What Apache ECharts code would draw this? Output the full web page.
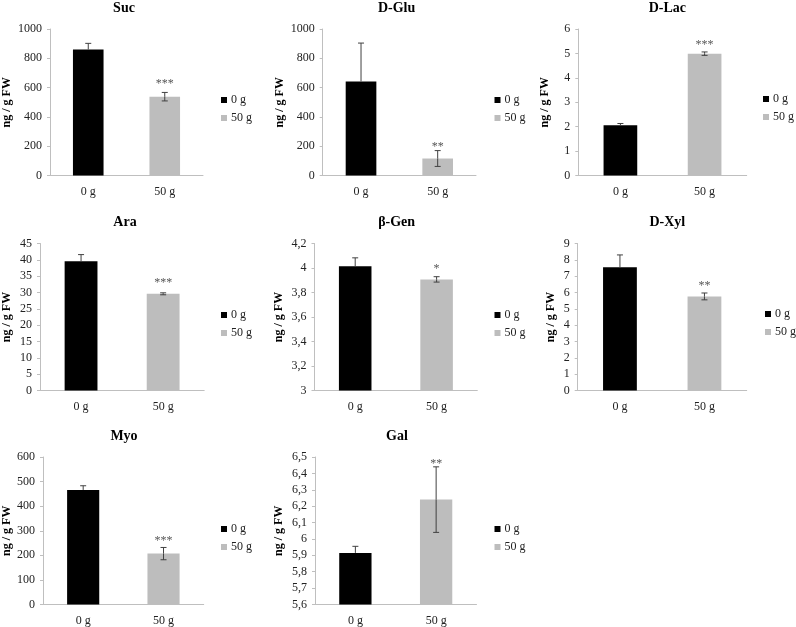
<!DOCTYPE html>
<html>
<head>
<meta charset="utf-8">
<script src="https://cdn.jsdelivr.net/npm/echarts@6/dist/echarts.min.js"></script>
<style>
html,body{margin:0;padding:0;background:#fff;}
#c{width:796px;height:627px;}
</style>
</head>
<body>
<div id="c"></div>
<script>
// ---- data ----
const panels = ['Suc', 'D-Glu', 'D-Lac', 'Ara', 'β-Gen', 'D-Xyl', 'Myo', 'Gal'];
const categories = ['0 g', '50 g'];
const val0 = [860, 642, 2.06, 39.6, 4.015, 7.55, 466, 5.915];
const err0 = [42, 262, 0.07, 2.0, 0.068, 0.75, 17, 0.04];
const val1 = [538, 116, 4.99, 29.6, 3.907, 5.76, 207, 6.24];
const err1 = [29, 54, 0.07, 0.3, 0.022, 0.21, 25, 0.2];
const stars1 = ['***', '**', '***', '***', '*', '**', '***', '**'];
const yMin = [0, 0, 0, 0, 3, 0, 0, 5.6];
const yMax = [1000, 1000, 6, 45, 4.2, 9, 600, 6.5];
const yStep = [200, 200, 1, 5, 0.2, 1, 100, 0.1];
const yName = 'ng / g FW';

// ---- layout (positions / sizes only) ----
const gridBox = [
  [50, 29, 153, 146.5],
  [322.7, 29, 153.3, 146.5],
  [578.3, 29, 168.4, 146.5],
  [39.5, 243.5, 164.7, 147],
  [314.5, 243.5, 162.8, 147],
  [577.7, 243.5, 169, 147],
  [42.7, 457, 161, 147.5],
  [315, 457, 161.5, 147.5]
];
const nameGaps = [37, 36.5, 27, 27, 30, 21, 30, 30.5];
const titlePos = [[124, 9], [396.6, 9], [667.3, 9], [125, 223], [396.6, 223], [667.3, 223], [124, 437], [397, 437]];
const legendPos = [[221, 101], [494.5, 101], [763, 100], [221, 316], [494.5, 316], [765, 315], [221, 530], [494.5, 530]];
const starGap = [11, 6, 10, 12, 10, 10, 9, 5];

const FONT = "'Liberation Serif','Times New Roman',serif";
const BLACK = '#000000';
const GRAY = '#bdbdbd';
const AXIS = '#bfbfbf';
const ERR = '#404040';

function fmt(v) {
  return String(parseFloat(Number(v).toFixed(3))).replace('.', ',');
}

const grids = [], xAxes = [], yAxes = [], series = [], titles = [], legends = [];
panels.forEach((p, i) => {
  const g = gridBox[i];
  grids.push({left: g[0], top: g[1], width: g[2], height: g[3], containLabel: false});
  xAxes.push({
    type: 'category', gridIndex: i, data: categories,
    axisLine: {lineStyle: {color: AXIS, width: 1}},
    axisTick: {show: false},
    axisLabel: {color: '#222', fontFamily: FONT, fontSize: 12, margin: 10}
  });
  yAxes.push({
    type: 'value', gridIndex: i, min: yMin[i], max: yMax[i], interval: yStep[i],
    name: yName, nameLocation: 'middle', nameGap: nameGaps[i],
    nameTextStyle: {color: '#000', fontFamily: FONT, fontSize: 12, fontWeight: 'bold'},
    axisLine: {show: true, lineStyle: {color: AXIS, width: 1}},
    axisTick: {show: true, length: 3, lineStyle: {color: AXIS}},
    splitLine: {show: false},
    axisLabel: {color: '#222', fontFamily: FONT, fontSize: 12, margin: 8, formatter: fmt}
  });
  series.push({
    type: 'bar', name: categories[0], xAxisIndex: i, yAxisIndex: i,
    data: [val0[i], '-'], barWidth: '40%', barGap: '-100%',
    itemStyle: {color: BLACK}, silent: true
  });
  series.push({
    type: 'bar', name: categories[1], xAxisIndex: i, yAxisIndex: i,
    data: ['-', val1[i]], barWidth: '40%', barGap: '-100%',
    itemStyle: {color: GRAY}, silent: true
  });
  const starText = ['', stars1[i]];
  series.push({
    type: 'custom', xAxisIndex: i, yAxisIndex: i, silent: true, z: 5,
    data: [[0, val0[i], err0[i]], [1, val1[i], err1[i]]],
    renderItem: function (params, api) {
      const x = api.value(0), v = api.value(1), e = api.value(2);
      const top = api.coord([x, v + e]);
      const mid = api.coord([x, v]);
      const bot = api.coord([x, v - e]);
      const c = 3;
      const st = {stroke: ERR, lineWidth: 1};
      const children = [
        {type: 'line', shape: {x1: top[0], y1: top[1], x2: mid[0], y2: mid[1]}, style: st},
        {type: 'line', shape: {x1: top[0] - c, y1: top[1], x2: top[0] + c, y2: top[1]}, style: st}
      ];
      // lower half only visible on the light bar (hidden by black bar in reference)
      if (params.dataIndex === 1) {
        children.push({type: 'line', shape: {x1: mid[0], y1: mid[1], x2: bot[0], y2: bot[1]}, style: st});
        children.push({type: 'line', shape: {x1: bot[0] - c, y1: bot[1], x2: bot[0] + c, y2: bot[1]}, style: st});
      }
      const s = starText[params.dataIndex];
      if (s) {
        children.push({type: 'text', style: {
          text: s, x: top[0], y: top[1] - starGap[i] + 2.5, align: 'center', verticalAlign: 'middle',
          fill: '#555', font: '12px ' + FONT
        }});
      }
      return {type: 'group', children: children};
    }
  });
  titles.push({
    text: p, left: titlePos[i][0], top: titlePos[i][1] - 8, textAlign: 'center', padding: 0,
    textStyle: {color: '#000', fontFamily: FONT, fontSize: 14, fontWeight: 'bold'}
  });
  legends.push({
    data: categories, orient: 'vertical', left: legendPos[i][0], top: legendPos[i][1] - 7,
    padding: 0, itemWidth: 6, itemHeight: 6, itemGap: 6, icon: 'rect', selectedMode: false,
    textStyle: {color: '#222', fontFamily: FONT, fontSize: 12, padding: [0, 0, 0, -1]}
  });
});

const chart = echarts.init(document.getElementById('c'), null, {renderer: 'canvas'});
chart.setOption({
  animation: false,
  backgroundColor: '#ffffff',
  title: titles,
  legend: legends,
  grid: grids,
  xAxis: xAxes,
  yAxis: yAxes,
  series: series
});
</script>
</body>
</html>
